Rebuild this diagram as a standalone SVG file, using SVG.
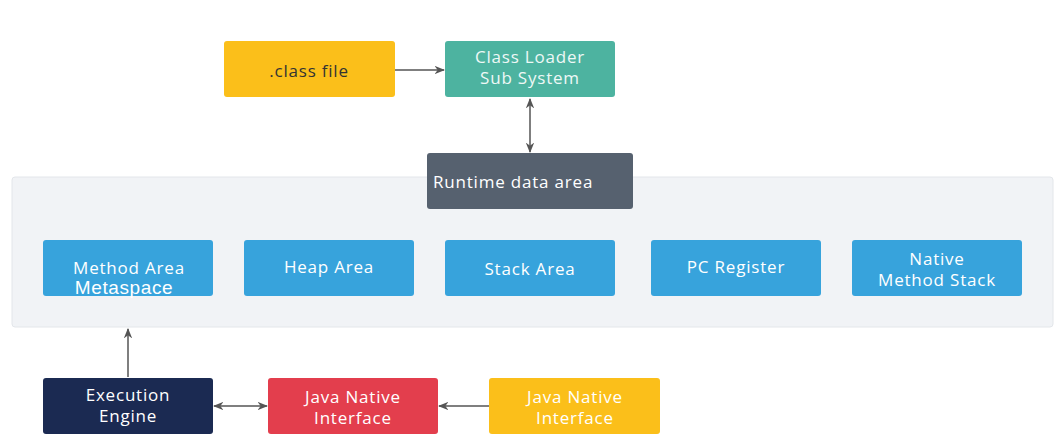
<svg xmlns="http://www.w3.org/2000/svg" width="1059" height="447" viewBox="0 0 1059 447">
<style>
text{font-family:"Open Sans","Noto Sans",sans-serif;font-size:17px;letter-spacing:0.8px;text-anchor:middle}
.w{fill:#ffffff}
.l{fill:#eef8f6}
.y{fill:#333333}
.c{stroke:#555555;stroke-width:1.5;fill:none}
.b{fill:#37a3dc}
</style>
<defs>
<marker id="ah" viewBox="0 0 10 10" refX="9" refY="5" markerWidth="7" markerHeight="7" orient="auto-start-reverse">
<path d="M0,1 L10,5 L0,9 L3,5 z" fill="#555555"/>
</marker>
</defs>
<rect width="1059" height="447" fill="#ffffff"/>
<g id="panel">
<rect x="12" y="177" width="1041" height="150" rx="3" fill="#f1f3f6" stroke="#e3e6ea"/>
</g>
<g id="connectors">
<line class="c" x1="395" y1="70" x2="444" y2="70" marker-end="url(#ah)"/>
<line class="c" x1="530" y1="99" x2="530" y2="152" marker-start="url(#ah)" marker-end="url(#ah)"/>
<line class="c" x1="128" y1="377" x2="128" y2="329" marker-end="url(#ah)"/>
<line class="c" x1="214" y1="406" x2="267" y2="406" marker-start="url(#ah)" marker-end="url(#ah)"/>
<line class="c" x1="489" y1="406" x2="439" y2="406" marker-end="url(#ah)"/>
</g>
<g id="classfile">
<rect x="224" y="41" width="171" height="56" rx="3" fill="#fbbf1a"/>
<text x="309" y="77" class="y">.class file</text>
</g>
<g id="classloader">
<rect x="445" y="41" width="170" height="56" rx="3" fill="#4db3a0"/>
<text x="530" y="63" class="l">Class Loader</text>
<text x="530" y="84" class="l">Sub System</text>
</g>
<g id="runtime">
<rect x="427" y="153" width="206" height="56" rx="3" fill="#56616f"/>
<text x="433" y="188" class="w" style="text-anchor:start">Runtime data area</text>
</g>
<g id="method">
<rect class="b" x="43" y="240" width="170" height="56" rx="3"/>
<text x="129" y="274" class="w">Method Area</text>
<text x="124" y="294" class="w" style="font-family:'Liberation Sans',sans-serif;font-size:19px;letter-spacing:0.6px">Metaspace</text>
</g>
<g id="heap">
<rect class="b" x="244" y="240" width="170" height="56" rx="3"/>
<text x="329" y="273" class="w">Heap Area</text>
</g>
<g id="stack">
<rect class="b" x="445" y="240" width="170" height="56" rx="3"/>
<text x="530" y="275" class="w">Stack Area</text>
</g>
<g id="pc">
<rect class="b" x="651" y="240" width="170" height="56" rx="3"/>
<text x="736" y="273" class="w">PC Register</text>
</g>
<g id="native">
<rect class="b" x="852" y="240" width="170" height="56" rx="3"/>
<text x="937" y="265" class="w">Native</text>
<text x="937" y="286" class="w">Method Stack</text>
</g>
<g id="exec">
<rect x="43" y="378" width="170" height="56" rx="3" fill="#1b2a52"/>
<text x="128" y="401" class="w">Execution</text>
<text x="128" y="422" class="w">Engine</text>
</g>
<g id="jni">
<rect x="268" y="378" width="170" height="56" rx="3" fill="#e33e4d"/>
<text x="353" y="403" class="w">Java Native</text>
<text x="353" y="424" class="w">Interface</text>
</g>
<g id="jni2">
<rect x="489" y="378" width="171" height="56" rx="3" fill="#fbbf1a"/>
<text x="575" y="403" class="w">Java Native</text>
<text x="575" y="424" class="w">Interface</text>
</g>
</svg>
